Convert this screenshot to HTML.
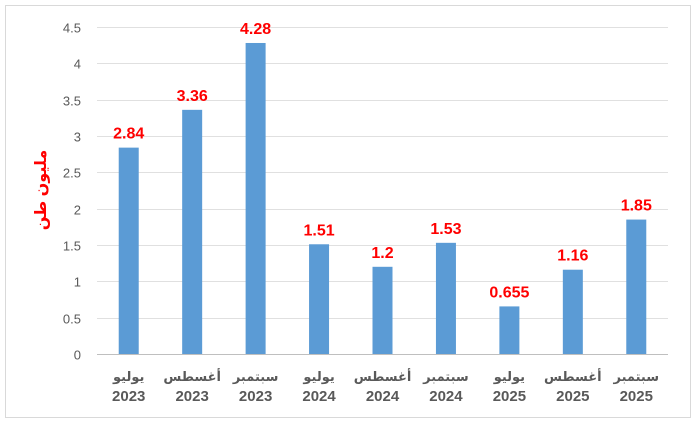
<!DOCTYPE html>
<html><head><meta charset="utf-8"><style>
body{margin:0;background:#fff;}
svg text{font-family:"Liberation Sans","DejaVu Sans",sans-serif;}
</style></head><body>
<svg id="chart" width="700" height="424" xmlns="http://www.w3.org/2000/svg">
<rect x="5.5" y="5.5" width="685" height="412" fill="#fff" stroke="#d9d9d9"/>
<text transform="translate(46,190) rotate(-90)" text-anchor="middle" font-size="16" font-weight="bold" fill="#ff0000">مليون طن</text>
<g id="grid"></g><g id="bars"></g><g id="labels"></g>
</svg>
<script>
const months=["يوليو","أغسطس","سبتمبر","يوليو","أغسطس","سبتمبر","يوليو","أغسطس","سبتمبر"];
const years=["2023","2023","2023","2024","2024","2024","2025","2025","2025"];
const values=[2.84,3.36,4.28,1.51,1.2,1.53,0.655,1.16,1.85];
const valueLabels=["2.84","3.36","4.28","1.51","1.2","1.53","0.655","1.16","1.85"];
const ticks=[0,0.5,1,1.5,2,2.5,3,3.5,4,4.5];
const tickLabels=["0","0.5","1","1.5","2","2.5","3","3.5","4","4.5"];
const NS="http://www.w3.org/2000/svg";
const x0=97,x1=668,y0=354,y1=27,maxV=4.5;
const yScale=v=>y0-(v/maxV)*(y0-y1);
const band=(x1-x0)/values.length;
const xCenter=i=>x0+band*(i+0.5);
function mk(tag,attrs,parent){const e=document.createElementNS(NS,tag);for(const k in attrs)e.setAttribute(k,attrs[k]);parent.appendChild(e);return e;}
const grid=document.getElementById('grid'),bars=document.getElementById('bars'),labels=document.getElementById('labels');
ticks.forEach((t,i)=>{
  const y=Math.round(yScale(t))+0.5;
  const l=mk('line',{x1:x0,x2:x1,y1:y,y2:y,stroke:i===0?'#bfbfbf':'#e0e0e0','stroke-width':1},grid);
  
  
  const tx=mk('text',{x:81,y:y+5,'text-anchor':'end','font-size':13,fill:'#595959'},grid);
  tx.textContent=tickLabels[i];
  
  
});
values.forEach((v,i)=>{
  const cx=xCenter(i),y=yScale(v);
  const r=mk('rect',{x:cx-10,y:y,width:20,height:y0-y,fill:'#5b9bd5'},bars);
  
  
  const vl=mk('text',{x:cx,y:y-9,'text-anchor':'middle','font-size':16,'font-weight':'bold',fill:'#ff0000'},labels);
  vl.textContent=valueLabels[i];
  
  
  const m=mk('text',{x:cx,y:381,'text-anchor':'middle','font-size':13,'font-weight':'bold',fill:'#595959'},labels);
  m.textContent=months[i];
  
  
  const yr=mk('text',{x:cx,y:401,'text-anchor':'middle','font-size':15,'font-weight':'bold',fill:'#595959'},labels);
  yr.textContent=years[i];
  
  
});
</script>
</body></html>
